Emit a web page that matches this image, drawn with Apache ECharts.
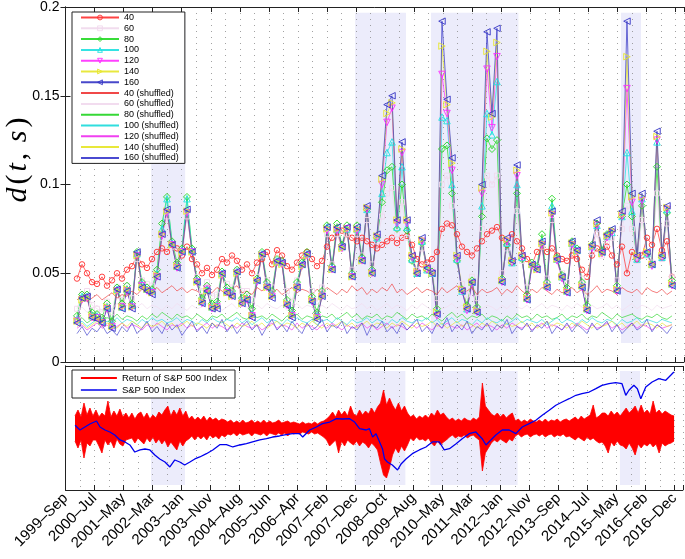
<!DOCTYPE html>
<html><head><meta charset="utf-8">
<script src="https://cdn.jsdelivr.net/npm/echarts@6/dist/echarts.min.js"></script>
<style>html,body{margin:0;padding:0;background:#fff}#c{width:685px;height:559px}</style>
</head><body><div id="c"></div>
<script>
// ---------- tick labels (one per x tick) ----------
const tickLabels = ['1999–Sep','2000–Jul','2001–May','2002–Mar','2003–Jan','2003–Nov','2004–Aug','2005–Jun','2006–Apr','2007–Feb','2007–Dec','2008–Oct','2009–Aug','2010–May','2011–Mar','2012–Jan','2012–Nov','2013–Sep','2014–Jul','2015–May','2016–Feb','2016–Dec'];
const yTicks = [0, 0.05, 0.1, 0.15, 0.2];
const windowNames = ['40','60','80','100','120','140','160'];

// ---------- d(t,s) for each window (evenly spaced samples) ----------
const v40 = [.047,.055,.050,.045,.044,.048,.043,.046,.050,.047, .052,.054,.060,.055,.053,.058,.062,.064,.062,.066, .064,.060,.065,.058,.055,.050,.053,.049,.052,.058, .056,.060,.057,.052,.055,.050,.056,.058,.062,.055, .063,.060,.054,.052,.056,.060,.062,.058,.054,.057, .065,.070,.073,.074,.072,.070,.068,.070,.068,.066, .064,.066,.068,.070,.067,.070,.071,.066,.058,.055, .056,.058,.062,.075,.078,.077,.072,.065,.062,.060, .064,.068,.072,.074,.076,.070,.066,.072,.068,.064, .058,.055,.062,.065,.062,.064,.060,.058,.057,.060, .058,.052,.048,.060,.064,.062,.065,.060,.055,.065, .050,.062,.058,.060,.070,.066,.075,.063,.068,.048];
const v60 = [.030,.038,.040,.032,.030,.028,.034,.028,.042,.035, .043,.036,.058,.046,.044,.043,.050,.070,.082,.065, .056,.062,.082,.062,.048,.040,.045,.037,.038,.050, .044,.042,.052,.040,.040,.035,.048,.060,.046,.042, .057,.056,.040,.034,.046,.055,.060,.040,.034,.042, .072,.055,.072,.064,.072,.052,.072,.060,.080,.055, .068,.082,.095,.098,.072,.090,.070,.057,.052,.064, .054,.052,.036,.100,.105,.088,.058,.044,.038,.048, .036,.075,.105,.100,.105,.050,.064,.056,.085,.057, .042,.055,.054,.065,.047,.080,.058,.050,.045,.064, .062,.047,.038,.062,.072,.060,.067,.070,.046,.075, .088,.075,.057,.080,.060,.056,.095,.058,.078,.048];
const v80 = [.026,.038,.038,.028,.027,.025,.033,.023,.042,.033, .043,.033,.062,.045,.042,.041,.052,.078,.093,.068, .056,.064,.093,.064,.047,.036,.043,.033,.034,.051, .042,.040,.052,.036,.038,.030,.047,.062,.045,.040, .058,.057,.035,.029,.045,.056,.062,.037,.028,.040, .077,.054,.078,.066,.077,.050,.077,.059,.086,.052, .070,.090,.108,.110,.075,.100,.074,.057,.050,.067, .052,.051,.030,.120,.122,.095,.057,.041,.032,.046, .031,.082,.126,.120,.125,.047,.066,.056,.095,.058, .038,.056,.054,.072,.045,.092,.059,.049,.042,.068, .064,.045,.032,.066,.078,.063,.072,.074,.043,.082, .100,.082,.058,.088,.061,.055,.110,.059,.084,.046];
const v100 = [.024,.037,.037,.026,.026,.023,.031,.021,.041,.031, .041,.032,.061,.044,.041,.040,.050,.075,.092,.067, .054,.063,.092,.063,.046,.034,.041,.031,.032,.050, .040,.038,.051,.034,.036,.027,.046,.061,.043,.038, .057,.056,.033,.027,.043,.055,.061,.035,.026,.038, .076,.053,.075,.065,.075,.049,.075,.058,.086,.051, .070,.095,.118,.124,.076,.110,.076,.058,.050,.068, .052,.050,.028,.138,.136,.100,.058,.040,.030,.045, .029,.088,.140,.128,.158,.046,.067,.056,.100,.059, .036,.055,.053,.068,.043,.088,.058,.048,.040,.067, .063,.043,.030,.065,.077,.062,.071,.073,.041,.082, .118,.085,.058,.092,.061,.055,.124,.059,.086,.044];
const v120 = [.023,.035,.036,.025,.025,.022,.030,.020,.040,.031, .040,.031,.060,.043,.040,.039,.048,.071,.084,.066, .053,.062,.084,.062,.045,.033,.041,.030,.031,.049, .039,.037,.050,.033,.035,.026,.045,.060,.042,.037, .056,.055,.032,.026,.042,.054,.060,.034,.025,.037, .074,.052,.074,.064,.075,.048,.074,.057,.086,.050, .070,.100,.135,.143,.078,.118,.078,.059,.050,.068, .052,.050,.026,.162,.140,.108,.058,.040,.029,.044, .028,.095,.165,.132,.172,.045,.068,.056,.105,.059, .035,.054,.052,.066,.042,.083,.057,.047,.039,.066, .062,.042,.029,.064,.077,.061,.070,.073,.040,.082, .154,.090,.058,.091,.061,.054,.125,.059,.086,.043];
const v140 = [.023,.035,.036,.026,.025,.023,.031,.020,.040,.031, .041,.031,.060,.042,.041,.039,.049,.072,.085,.066, .054,.062,.085,.062,.045,.034,.040,.031,.031,.049, .039,.037,.050,.033,.036,.026,.046,.060,.042,.037, .056,.055,.033,.026,.042,.054,.060,.035,.025,.037, .075,.052,.075,.064,.075,.048,.075,.057,.087,.050, .071,.103,.140,.146,.080,.120,.080,.060,.051,.069, .053,.050,.028,.178,.145,.112,.060,.041,.031,.045, .029,.098,.175,.138,.180,.046,.069,.057,.108,.060, .036,.055,.052,.067,.043,.084,.058,.048,.040,.067, .062,.043,.030,.065,.078,.061,.071,.074,.041,.083, .172,.093,.060,.093,.062,.055,.127,.060,.087,.044];
const v160 = [.022,.036,.037,.025,.024,.022,.030,.019,.041,.030, .040,.030,.062,.042,.040,.038,.048,.072,.086,.066, .053,.062,.086,.062,.045,.033,.040,.030,.030,.050, .039,.037,.051,.033,.035,.025,.046,.061,.042,.036, .057,.056,.032,.025,.042,.055,.061,.034,.024,.037, .076,.052,.076,.065,.076,.048,.076,.057,.088,.050, .072,.105,.145,.150,.080,.124,.080,.060,.050,.070, .053,.050,.027,.192,.148,.115,.060,.040,.030,.045, .028,.100,.186,.140,.188,.045,.070,.057,.111,.060, .035,.055,.052,.068,.042,.085,.058,.048,.039,.068, .063,.042,.029,.066,.080,.062,.072,.075,.040,.085, .192,.095,.060,.095,.062,.055,.130,.060,.088,.043];

// ---------- shuffled counterparts ----------
const s40 = [.035,.037,.034,.036,.038,.035,.037,.039,.036,.038, .037,.040,.038,.041,.039,.040,.042,.039,.041,.043, .040,.042,.039,.041,.040,.038,.041,.039,.042,.040, .038,.041,.043,.039,.040,.038,.042,.040,.043,.039, .041,.038,.040,.042,.039,.041,.040,.038,.041,.039, .042,.040,.038,.041,.039,.043,.040,.042,.038,.041, .039,.042,.040,.044,.039,.041,.038,.040,.042,.039, .041,.040,.038,.042,.039,.041,.043,.039,.040,.042, .038,.041,.039,.040,.042,.038,.041,.039,.043,.040, .038,.041,.039,.042,.040,.038,.041,.039,.040,.042, .039,.041,.038,.040,.043,.039,.041,.040,.038,.042, .040,.039,.041,.038,.042,.040,.039,.041,.038,.040];
const s60 = [.029,.031,.028,.030,.032,.029,.031,.030,.033,.030, .032,.029,.031,.033,.030,.032,.031,.029,.032,.030, .033,.031,.029,.032,.030,.031,.033,.030,.032,.029, .031,.033,.030,.032,.031,.029,.032,.030,.033,.031, .030,.032,.029,.031,.033,.030,.032,.031,.029,.032, .030,.033,.031,.029,.032,.030,.031,.033,.030,.032, .029,.031,.033,.030,.032,.031,.029,.032,.030,.033, .031,.029,.032,.030,.031,.033,.030,.032,.029,.031, .033,.030,.032,.031,.029,.032,.030,.033,.031,.030, .032,.029,.031,.033,.030,.032,.031,.029,.032,.030, .033,.031,.029,.032,.030,.031,.033,.030,.032,.029, .031,.033,.030,.032,.031,.029,.032,.030,.031,.032];
const s80 = [.023,.025,.022,.024,.026,.023,.025,.024,.027,.024, .026,.025,.023,.026,.024,.027,.025,.028,.026,.024, .027,.025,.026,.024,.027,.025,.023,.026,.025,.027, .024,.026,.028,.025,.024,.027,.025,.026,.024,.027, .025,.023,.026,.025,.027,.024,.026,.025,.023,.026, .025,.027,.024,.026,.028,.025,.027,.024,.026,.025, .027,.024,.026,.025,.028,.026,.024,.027,.025,.026, .024,.027,.025,.023,.026,.028,.025,.027,.024,.026, .025,.027,.024,.026,.025,.023,.026,.024,.027,.025, .026,.024,.027,.025,.026,.024,.025,.027,.024,.026, .025,.027,.024,.026,.025,.028,.026,.024,.027,.025, .026,.027,.025,.024,.026,.025,.027,.025,.024,.026];
const s100 = [.021,.023,.020,.022,.024,.021,.023,.022,.025,.022, .024,.023,.021,.024,.022,.025,.023,.024,.022,.023, .025,.022,.024,.023,.021,.024,.022,.025,.023,.022, .024,.023,.025,.022,.024,.021,.023,.025,.022,.024, .023,.021,.024,.022,.025,.023,.022,.024,.021,.023, .024,.022,.025,.023,.021,.024,.022,.023,.025,.022, .024,.023,.021,.024,.022,.025,.023,.022,.024,.023, .025,.022,.024,.021,.023,.025,.022,.024,.023,.021, .024,.022,.025,.023,.022,.024,.021,.023,.025,.022, .024,.023,.022,.024,.021,.023,.025,.022,.024,.023, .021,.024,.022,.025,.023,.022,.024,.023,.021,.024, .022,.023,.025,.022,.024,.023,.022,.024,.023,.022];
const s120 = [.019,.021,.018,.020,.022,.019,.021,.018,.020,.022, .019,.021,.020,.018,.021,.019,.022,.020,.018,.021, .020,.022,.019,.021,.018,.020,.022,.019,.021,.020, .018,.021,.019,.022,.020,.019,.021,.018,.020,.022, .019,.021,.020,.018,.022,.019,.021,.020,.018,.021, .019,.022,.020,.018,.021,.019,.020,.022,.019,.021, .018,.020,.022,.019,.021,.020,.018,.021,.019,.022, .020,.018,.021,.019,.022,.020,.019,.021,.018,.020, .022,.019,.021,.020,.018,.021,.019,.022,.020,.019, .021,.018,.020,.022,.019,.021,.020,.018,.021,.019, .022,.020,.018,.021,.019,.020,.022,.019,.021,.018, .020,.022,.019,.021,.020,.018,.021,.019,.020,.021];
const s140 = [.020,.022,.019,.021,.023,.020,.022,.021,.019,.022, .020,.023,.021,.019,.022,.020,.021,.023,.020,.022, .019,.021,.023,.020,.022,.021,.019,.022,.020,.023, .021,.019,.022,.020,.021,.023,.020,.022,.019,.021, .023,.020,.022,.021,.019,.022,.020,.023,.021,.019, .022,.020,.021,.023,.020,.022,.019,.021,.023,.020, .022,.021,.019,.022,.020,.023,.021,.019,.022,.020, .021,.023,.020,.022,.019,.021,.023,.020,.022,.021, .019,.022,.020,.023,.021,.019,.022,.020,.021,.023, .020,.022,.019,.021,.023,.020,.022,.021,.019,.022, .020,.023,.021,.019,.022,.020,.021,.023,.020,.022, .019,.021,.023,.020,.022,.021,.019,.022,.020,.021];
const s160 = [.016,.020,.015,.019,.017,.021,.016,.018,.015,.020, .017,.022,.016,.019,.023,.017,.020,.016,.022,.018, .021,.015,.019,.023,.017,.020,.016,.022,.019,.024, .017,.021,.016,.020,.023,.018,.021,.015,.020,.024, .018,.021,.017,.023,.019,.016,.022,.018,.020,.024, .017,.021,.019,.023,.016,.020,.018,.022,.015,.021, .019,.023,.017,.020,.016,.022,.018,.021,.024,.017, .020,.016,.022,.019,.025,.017,.021,.018,.023,.016, .020,.018,.022,.017,.021,.019,.024,.016,.020,.018, .022,.017,.021,.019,.023,.016,.020,.018,.022,.017, .021,.019,.016,.022,.018,.020,.023,.017,.021,.016, .019,.022,.018,.020,.024,.017,.021,.019,.016,.020];

// ---------- lower panel: daily return of S&P 500, upper / lower extremes per sample ----------
const retHigh = [.024,.036,.022,.050,.026,.040,.024,
 .036,.022,.030,.024,.054,.022,.034,.024,.038,.022,.030,
 .020,.030,.018,.028,.032,.020,.030,.018,.026,.020,.032,
 .026,.036,.044,.024,.036,.026,.040,.024,.034,
 .018,.024,.016,.022,.016,.024,.014,.022,.016,.020,.014,.018,.016,
 .012,.016,.010,.014,.010,.016,.010,.012,.016,.010,.014,.010,.016,.010,.014,.010,.012,.016,.010,.012,.014,.010,.012,
 .010,.008,.012,.008,.010,.008,.012,.008,.012,.014,.018,
 .024,.032,.022,.036,.026,.034,.024,.044,.028,.024,.036,.026,.034,.028,.040,.030,.042,
 .050,.076,.046,.060,
 .046,.036,.050,.034,.044,.030,
 .022,.026,.018,.024,.020,.026,.020,
 .030,.024,.036,.026,.030,.022,
 .016,.020,.014,.018,.014,.020,.016,.014,.020,.016,.022,
 .090,.044,.036,
 .028,.024,.030,.022,.028,.020,.026,.030,
 .014,.018,.012,.016,.012,.018,.014,.012,.016,.012,.018,.012,.016,.014,.018,.012,.016,.018,.014,
 .018,.022,.016,.024,.018,.022,.026,.046,.020,.024,.030,
 .030,.024,.034,.026,.032,.024,
 .032,.040,.030,.036,.044,.030,.046,
 .030,.036,.028,.054,.030,.036,.028,.034,.030,.026,.024];
const retLow = [-.026,-.040,-.024,-.060,-.030,-.036,-.024,
 -.024,-.036,-.050,-.024,-.034,-.026,-.040,-.022,-.032,-.036,-.024,
 -.022,-.020,-.030,-.020,-.026,-.032,-.020,-.028,-.018,-.030,-.022,
 -.032,-.024,-.038,-.028,-.036,-.044,-.026,-.036,-.026,
 -.022,-.016,-.024,-.016,-.022,-.016,-.024,-.014,-.020,-.016,-.022,-.014,-.018,
 -.012,-.014,-.010,-.016,-.010,-.014,-.012,-.010,-.016,-.010,-.012,-.014,-.010,-.016,-.010,-.012,-.014,-.010,-.014,-.010,-.016,-.010,-.012,
 -.010,-.012,-.008,-.010,-.012,-.008,-.012,-.010,-.014,-.018,-.024,
 -.036,-.030,-.024,-.050,-.026,-.036,-.024,-.030,-.034,-.026,-.036,-.028,-.032,-.040,-.030,-.036,-.044,
 -.070,-.094,-.100,-.080,
 -.054,-.040,-.050,-.036,-.046,-.034,
 -.020,-.026,-.018,-.024,-.022,-.026,-.020,
 -.030,-.036,-.026,-.034,-.028,-.024,
 -.018,-.014,-.020,-.016,-.018,-.014,-.020,-.016,-.014,-.020,-.024,
 -.086,-.050,-.040,
 -.030,-.024,-.028,-.022,-.026,-.030,-.022,-.026,
 -.016,-.012,-.018,-.014,-.012,-.018,-.014,-.012,-.016,-.012,-.018,-.014,-.012,-.018,-.014,-.016,-.012,-.018,-.016,
 -.020,-.024,-.018,-.022,-.026,-.018,-.024,-.020,-.026,-.030,-.028,
 -.036,-.050,-.028,-.036,-.026,-.034,
 -.036,-.042,-.030,-.040,-.054,-.032,-.040,
 -.032,-.036,-.030,-.038,-.032,-.050,-.030,-.036,-.032,-.030,-.026];
const spIndexPos = [0.33,0.50,0.67,0.84,1.07,1.19,1.36,1.53,1.70,1.88,2.05,2.22,2.39,2.57,2.74,2.91,3.08,3.25,3.43,3.60,3.77,3.94,4.11,4.29,4.46,4.63,4.86,5.08,5.32,5.55,5.77,6.01,6.24,6.45,6.70,6.93,7.14,7.38,7.61,7.83,8.07,8.18,8.42,8.65,8.86,9.11,9.34,9.55,9.79,9.97,10.14,10.37,10.48,10.59,10.71,10.93,11.00,11.10,11.27,11.45,11.58,11.75,11.96,12.20,12.43,12.65,12.89,13.06,13.24,13.47,13.68,13.92,14.15,14.37,14.50,14.67,14.84,15.06,15.30,15.53,15.75,15.99,16.22,16.44,16.68,16.91,17.13,17.37,17.60,17.81,18.06,18.29,18.50,18.74,18.97,19.19,19.32,19.43,19.60,19.72,19.84,20.01,20.23,20.46,20.70,20.87,20.98];
const spIndex = [1443,1370,1417,1463,1510,1417,1370,1339,1292,1215,1184,1137,1028,1060,1075,1060,982,920,873,796,904,873,827,873,920,951,1002,1060,1142,1142,1106,1137,1157,1184,1215,1235,1261,1277,1297,1313,1313,1261,1370,1417,1468,1494,1546,1541,1546,1494,1390,1370,1390,1261,1313,1080,924,873,827,749,847,924,1002,1060,1106,1184,1184,1060,1080,1157,1235,1313,1339,1235,1137,1215,1292,1370,1370,1313,1417,1468,1521,1598,1676,1754,1805,1856,1909,1934,1960,2012,2064,2089,2105,2089,1909,1987,2064,2012,1856,2038,2116,2167,2142,2220,2271];

// shaded crisis periods, in tick units
const shadeSpans = [[2.95,4.12],[9.97,11.72],[12.58,15.59],[19.12,19.81]];

// ---------- build ----------
const XMAX = 21.29;
const t0 = 0.396, dt = 0.1721;      // sample positions of d(t,s)
const r0 = 0.327, rdt = 0.1033;     // sample positions of return extremes
const colors = ['#ff3030','#f0d8ec','#22d822','#1ee0e0','#ff2cff','#e6e62a','#3434c4'];
const shColors = ['#f04848','#f2dcef','#36d836','#30dede','#f040f0','#e8e83a','#4a4ad0'];
const symbols = [['circle',5.5,0],['rect',5,0],['diamond',7,0],['triangle',6.5,0],['triangle',6.5,180],['triangle',6.5,-90],['triangle',6.5,90]];
const main = [v40,v60,v80,v100,v120,v140,v160];
const shuf = [s40,s60,s80,s100,s120,s140,s160];
const pts = (arr, a, d) => arr.map((v,i)=>[a + d*i, v]);
const hollow = (c) => ({color:'rgba(255,255,255,0)', borderColor:c, borderWidth:0.9});

const series = [];
function shade(xi, yi, lo, hi){
  return {type:'custom', xAxisIndex:xi, yAxisIndex:yi, z:-1, silent:true,
    data: shadeSpans.map(s=>[s[0], s[1], lo, hi]),
    encode:{x:[0,1], y:[2,3]},
    renderItem:(p, api)=>{
      const a = api.coord([api.value(0), api.value(3)]);
      const b = api.coord([api.value(1), api.value(2)]);
      return {type:'rect', shape:{x:a[0], y:a[1], width:b[0]-a[0], height:b[1]-a[1]}, style:{fill:'#ececfb'}};
    }};
}
series.push(shade(0,0,0.0107,0.1968));
series.push(shade(3,2,-0.114,0.114));
main.forEach((arr,k)=>{
  const c = colors[k];
  series.push({name:windowNames[k], type:'line', xAxisIndex:0, yAxisIndex:0, data:pts(arr,t0,dt),
    symbol:symbols[k][0], symbolSize:symbols[k][1], symbolRotate:symbols[k][2], showAllSymbol:true,
    color:c, lineStyle:{color:c, width:0.8, opacity:0.9}, itemStyle:hollow(c)});
});
shuf.forEach((arr,k)=>{
  const c = shColors[k];
  series.push({name:windowNames[k]+' (shuffled)', type:'line', xAxisIndex:0, yAxisIndex:0, data:pts(arr,t0,dt),
    symbol:'circle', showSymbol:false, color:c, lineStyle:{color:c, width:0.7}});
});
[retHigh, retLow].forEach(arr=>{
  series.push({name:'Return of S&P 500 Index', type:'line', xAxisIndex:3, yAxisIndex:2, data:pts(arr,r0,rdt),
    symbol:'circle', showSymbol:false, color:'#ff0000', lineStyle:{color:'#ff0000', width:0.8},
    areaStyle:{color:'#ff0000', opacity:1, origin:0}});
});
series.push({name:'S&P 500 Index', type:'line', xAxisIndex:3, yAxisIndex:3,
  data: spIndex.map((v,i)=>[spIndexPos[i], v]).slice(0, Math.min(spIndex.length, spIndexPos.length)),
  symbol:'circle', showSymbol:false, color:'#0000ee', lineStyle:{color:'#0000ee', width:1.3}});

const AX = '#222';
const FONT = 'Liberation Sans, Arial, sans-serif';
const dotted = {show:true, lineStyle:{color:'#8a8a8a', width:0.8, type:[1,5]}};
const baseX = (grid, pos, labels) => ({type:'value', gridIndex:grid, position:pos, min:0, max:XMAX, interval:1,
  axisLine:{show:true, onZero:false, lineStyle:{color:AX, width:1}},
  axisTick:{show:true, inside:true, length:5, lineStyle:{color:AX}},
  splitLine:{show:false},
  axisLabel: labels ? {show:true, rotate:45, margin:6, fontSize:15, color:'#000', fontFamily:FONT,
     formatter:(v)=>{const i=Math.round(v); return Math.abs(v-i)<1e-6 && tickLabels[i] ? tickLabels[i] : '';}} : {show:false}});
const gridX = (grid) => ({type:'value', gridIndex:grid, position:'bottom', min:0, max:XMAX, interval:0.5,
  axisLine:{show:false}, axisTick:{show:false}, axisLabel:{show:false}, splitLine:dotted});

const noSym = {opacity:0};
const option = {
  animation:false,
  backgroundColor:'#fff',
  grid:[{left:65.5, top:5, width:618.5, height:357},{left:65.5, top:366, width:618.5, height:124}],
  xAxis:[baseX(0,'bottom',false), baseX(0,'top',false), gridX(0), baseX(1,'bottom',true), baseX(1,'top',false), gridX(1)],
  yAxis:[
    {type:'value', gridIndex:0, position:'left', min:0, max:0.2, interval:0.05,
     axisLine:{show:true, lineStyle:{color:AX}}, axisTick:{show:true, inside:true, length:5, lineStyle:{color:AX}},
     splitLine:{show:false},
     axisLabel:{fontSize:14, color:'#000', margin:6, fontFamily:FONT,
       formatter:(v)=>{const t=yTicks.find(q=>Math.abs(q-v)<1e-9); return t===undefined?'':String(t);}}},
    {type:'value', gridIndex:0, position:'right', min:0, max:0.2, interval:0.05,
     axisLine:{show:true, lineStyle:{color:AX}}, axisTick:{show:true, inside:true, length:5, lineStyle:{color:AX}},
     splitLine:{show:false}, axisLabel:{show:false}},
    {type:'value', gridIndex:1, position:'left', min:-0.124, max:0.124,
     axisLine:{show:true, lineStyle:{color:AX}}, axisTick:{show:false}, splitLine:{show:false}, axisLabel:{show:false}},
    {type:'value', gridIndex:1, position:'right', min:438, max:2364,
     axisLine:{show:true, lineStyle:{color:AX}}, axisTick:{show:false}, splitLine:{show:false}, axisLabel:{show:false}}
  ],
  legend:[
    {orient:'vertical', left:72, top:12, padding:[1,6,1,8], itemWidth:38, itemHeight:6, itemGap:1.8,
     backgroundColor:'#fff', borderColor:'#222', borderWidth:1, borderRadius:0,
     textStyle:{fontSize:9, color:'#000', fontFamily:FONT},
     data: windowNames.map((n,k)=>({name:n, itemStyle:hollow(colors[k])}))
       .concat(windowNames.map(n=>({name:n+' (shuffled)', itemStyle:noSym})))},
    {orient:'vertical', left:72, top:370, padding:[3,8,3,8], itemWidth:36, itemHeight:8, itemGap:2,
     backgroundColor:'#fff', borderColor:'#222', borderWidth:1, borderRadius:0,
     textStyle:{fontSize:9.5, color:'#000', fontFamily:FONT},
     data:[{name:'Return of S&P 500 Index', itemStyle:noSym, lineStyle:{width:1.8}},
           {name:'S&P 500 Index', itemStyle:noSym, lineStyle:{width:1.5}}]}
  ],
  graphic:[{type:'text', x:18, y:160, rotation:Math.PI/2,
    style:{text:'{i|d}{n|(}{i|t}{n|, }{i|s}{n|)}', textAlign:'center', textVerticalAlign:'middle',
      rich:{i:{fontFamily:'Liberation Serif, serif', fontStyle:'italic', fontSize:30, padding:[0,1.5], fill:'#000'},
            n:{fontFamily:'Liberation Serif, serif', fontSize:30, padding:[0,1.5], fill:'#000'}}}}],
  series: series
};
echarts.init(document.getElementById('c'), null, {renderer:'canvas'}).setOption(option);
</script></body></html>
